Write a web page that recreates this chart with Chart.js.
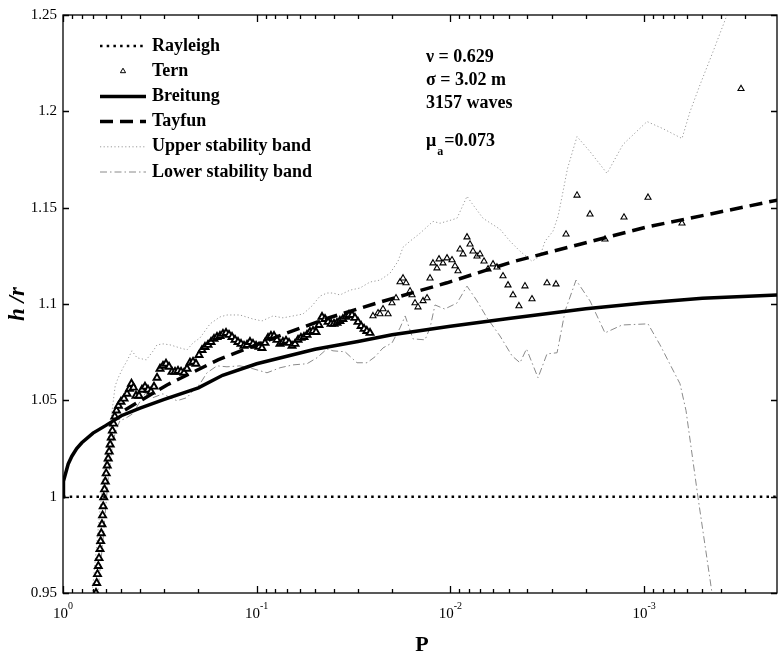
<!DOCTYPE html>
<html>
<head>
<meta charset="utf-8">
<script src="https://cdn.jsdelivr.net/npm/chart.js@4.4.1/dist/chart.umd.min.js"></script>
<style>
  html, body { margin: 0; padding: 0; background: #fff; }
  #contenedor { width: 778px; height: 654px; }
</style>
</head>
<body>
<div id="contenedor"><canvas id="grafica" width="778" height="654"></canvas></div>
<script>
/**
 * h/r contra P (escala log invertida)
 */

const rayleighP = [1, 2.06e-4];
const rayleighH = [1, 1];

const ternP = [
    0.679, 0.6755, 0.6699, 0.6636, 0.6574, 0.6518, 0.6442, 0.6389, 0.6343, 0.6291,
    0.6246, 0.6202, 0.6158, 0.6105, 0.6048, 0.5984, 0.5913, 0.5843, 0.5775, 0.5706,
    0.5632, 0.5559, 0.5487, 0.5403, 0.5294, 0.5170, 0.5019, 0.4843, 0.4673, 0.4537,
    0.4431, 0.4325, 0.4199, 0.4052, 0.3910, 0.3773, 0.3641, 0.3513, 0.3390, 0.3271,
    0.3156, 0.3046, 0.2939, 0.2836, 0.2737, 0.2641, 0.2548, 0.2459, 0.2373, 0.2290,
    0.2210, 0.2132, 0.2058, 0.1985, 0.1916, 0.1849, 0.1784, 0.1721, 0.1661, 0.1603,
    0.1547, 0.1493, 0.1440, 0.1390, 0.1341, 0.1294, 0.1249, 0.1205, 0.1163, 0.1122,
    0.1083, 0.1045, 0.1008, 0.0973, 0.0939, 0.0906, 0.0874, 0.0844, 0.0814, 0.0786,
    0.0758, 0.0732, 0.0706, 0.0681, 0.0657, 0.0634, 0.0612, 0.0591, 0.0570, 0.0550,
    0.0531, 0.0512, 0.0494, 0.0477, 0.0460, 0.0444, 0.0428, 0.0413, 0.0399, 0.0385,
    0.0372, 0.0359, 0.0346, 0.0334, 0.0322, 0.0311, 0.0300, 0.0289, 0.0279, 0.0270,
    0.0260,
    0.0251, 0.02364, 0.02309, 0.02228, 0.02098, 0.02002, 0.01909, 0.01820, 0.01756, 0.01694,
    0.01616, 0.01578, 0.01523, 0.01470, 0.01384, 0.01320, 0.01274, 0.01230, 0.01173, 0.01145,
    0.01092, 0.01041, 0.009811, 0.009467, 0.009135, 0.008920, 0.008607, 0.008209, 0.007921, 0.007644,
    0.007288, 0.007034, 0.006706, 0.006394, 0.006026, 0.005747, 0.005351, 0.005042, 0.004751, 0.004426,
    0.004121, 0.003791, 0.003172, 0.002850, 0.002530, 0.002220, 0.001902, 0.001592, 0.001270, 0.0009546,
    0.0006373, 0.0003160
];
const ternH = [
    0.947, 0.950, 0.9552, 0.9598, 0.9640, 0.9681, 0.9728, 0.9769, 0.9810, 0.9857,
    0.9903, 0.9950, 0.9997, 1.0038, 1.0079, 1.0121, 1.0162, 1.0198, 1.0234, 1.0271,
    1.0307, 1.0343, 1.0379, 1.0416, 1.0447, 1.0472, 1.0493, 1.0509, 1.0534, 1.0560,
    1.0586, 1.0566, 1.0524, 1.0524, 1.0555, 1.0571, 1.0555, 1.0545, 1.0571, 1.0617,
    1.0664, 1.0679, 1.0690, 1.0674, 1.0648, 1.0648, 1.0653, 1.0648, 1.0643, 1.0664,
    1.0695, 1.0700, 1.0690, 1.0735, 1.0761, 1.0777, 1.0788, 1.0803, 1.0819, 1.0829,
    1.0834, 1.0845, 1.0850, 1.0840, 1.0829, 1.0814, 1.0803, 1.0793, 1.0783, 1.0788,
    1.0803, 1.0793, 1.0783, 1.0778, 1.0772, 1.0798, 1.0824, 1.0834, 1.0834, 1.0814,
    1.0793, 1.0803, 1.0809, 1.0798, 1.0783, 1.0793, 1.0814, 1.0824, 1.0829, 1.0840,
    1.0855, 1.0860, 1.0855, 1.0891, 1.0933, 1.0922, 1.0907, 1.0897, 1.0897, 1.0902,
    1.0912, 1.0922, 1.0933, 1.0943, 1.0943, 1.0928, 1.0907, 1.0886, 1.0871, 1.0860,
    1.0850,
    1.0938, 1.0953, 1.0948, 1.0974, 1.0948, 1.1005, 1.1031, 1.1114, 1.1134, 1.1109,
    1.1067, 1.1047, 1.1005, 1.0984, 1.1016, 1.1031, 1.1134, 1.1212, 1.1186, 1.1233,
    1.1212, 1.1238, 1.1228, 1.1197, 1.1171, 1.1284, 1.1259, 1.1347, 1.1310, 1.1274,
    1.1248, 1.1259, 1.1222, 1.1181, 1.1207, 1.1191, 1.1145, 1.1098, 1.1047, 1.0990,
    1.1093, 1.1026, 1.1109, 1.1103, 1.1362, 1.1564, 1.1466, 1.1336, 1.1450, 1.1553,
    1.1419, 1.2117
];
// los primeros 111 puntos forman la nube densa
const ternDensos = 111;

const breitungP = [1, 0.999, 0.99, 0.97, 0.94, 0.9, 0.85, 0.8, 0.7, 0.6, 0.5, 0.4, 0.3, 0.2, 0.15, 0.1, 0.05, 0.03, 0.02, 0.01, 0.005, 0.002, 0.001, 0.0005, 0.000206];
const breitungH = [1.000, 1.004, 1.008, 1.012, 1.017, 1.021, 1.025, 1.028, 1.033, 1.037, 1.042, 1.046, 1.0505, 1.0565, 1.063, 1.069, 1.0765, 1.0805, 1.084, 1.0885, 1.0925, 1.0975, 1.1005, 1.103, 1.1047];

const tayfunP = [0.4786, 0.2905, 0.1584, 0.06974, 0.04184, 0.02309, 0.01041, 0.004751, 0.002140, 0.0009658, 0.0004409, 0.0002035];
const tayfunH = [1.045, 1.058, 1.071, 1.085, 1.093, 1.101, 1.111, 1.122, 1.131, 1.140, 1.147, 1.154];

const bandaSupP = [
    0.7085, 0.6442, 0.6070, 0.5720, 0.5376, 0.5188, 0.4900, 0.4673, 0.4406, 0.4150,
    0.3716, 0.3420, 0.3271, 0.3046, 0.2803, 0.2489, 0.2290, 0.2132, 0.1962, 0.1741,
    0.1547, 0.1424, 0.1220, 0.1045, 0.09389, 0.08239, 0.07316, 0.06495, 0.05768, 0.05180,
    0.04712, 0.04335, 0.04037, 0.03715, 0.03298, 0.02929, 0.02600, 0.02309, 0.02048, 0.01864,
    0.01756, 0.01616, 0.01435, 0.01230, 0.01132, 0.01005, 0.009245, 0.008209, 0.007735, 0.006787,
    0.005545, 0.004924, 0.004371, 0.003791, 0.003447, 0.003246, 0.002953, 0.002781, 0.002651, 0.002486,
    0.002220, 0.001902, 0.001554, 0.001285, 0.0009658, 0.0007987, 0.0006373, 0.0005794, 0.0005143, 0.0004409,
    0.0003733, 0.0003198
];
const bandaSupH = [
    0.9490, 0.9929, 1.0188, 1.0359, 1.0576, 1.0617, 1.0669, 1.0705, 1.0757, 1.0721,
    1.0710, 1.0757, 1.0788, 1.0793, 1.0788, 1.0772, 1.0762, 1.0798, 1.0824, 1.0897,
    1.0933, 1.0943, 1.0943, 1.0922, 1.0912, 1.0938, 1.0928, 1.0938, 1.0948, 1.0990,
    1.1041, 1.1057, 1.1057, 1.1047, 1.1072, 1.1083, 1.1114, 1.1124, 1.1160, 1.1222,
    1.1295, 1.1326, 1.1367, 1.1429, 1.1419, 1.1434, 1.1445, 1.1559, 1.1522, 1.1445,
    1.1388, 1.1326, 1.1274, 1.1222, 1.1248, 1.1326, 1.1378, 1.1455, 1.1559, 1.1703,
    1.1869, 1.1791, 1.1678, 1.1828, 1.1947, 1.1910, 1.1859, 1.1998, 1.2138, 1.2309,
    1.2500, 1.2671
];

const bandaInfP = [
    0.6675, 0.6216, 0.5858, 0.5519, 0.5261, 0.5077, 0.4786, 0.4353, 0.4065, 0.3684,
    0.3431, 0.3046, 0.2803, 0.2578, 0.2290, 0.2132, 0.1962, 0.1806, 0.1603, 0.1424,
    0.1220, 0.1045, 0.08846, 0.07582, 0.06495, 0.05500, 0.04883, 0.04335, 0.04037, 0.03500,
    0.03035, 0.02695, 0.02450, 0.02228, 0.02002, 0.01820, 0.01712, 0.01560, 0.01352, 0.01274,
    0.01201, 0.01070, 0.009245, 0.008209, 0.007288, 0.006471, 0.005545, 0.004808, 0.004371, 0.004046,
    0.003530, 0.003172, 0.002813, 0.002557, 0.002246, 0.001902, 0.001592, 0.001300, 0.0009546, 0.0008276,
    0.0006526, 0.0006076, 0.0005270, 0.0004461, 0.0004355
];
const bandaInfH = [
    0.9464, 0.9774, 1.0084, 1.0291, 1.0359, 1.0395, 1.0405, 1.0431, 1.0483, 1.0550,
    1.0514, 1.0534, 1.0514, 1.0498, 1.0514, 1.0550, 1.0586, 1.0643, 1.0679, 1.0674,
    1.0679, 1.0664, 1.0643, 1.0669, 1.0684, 1.0690, 1.0721, 1.0767, 1.0757, 1.0752,
    1.0695, 1.0695, 1.0726, 1.0772, 1.0798, 1.0876, 1.0938, 1.0819, 1.0814, 1.0876,
    1.0995, 1.0974, 1.1005, 1.1093, 1.1016, 1.0928, 1.0834, 1.0731, 1.0695, 1.0767,
    1.0617, 1.0741, 1.0747, 1.0964, 1.1124, 1.1016, 1.0850, 1.0891, 1.0897, 1.0788,
    1.0586, 1.0447, 0.9997, 0.9500, 0.9412
];

const exponentesX = [0, -1, -2, -3];
const textosInfo = ['ν = 0.629', 'σ = 3.02 m', '3157 waves'];
const textoMu = ['μ', 'a', '=0.073'];

const FUENTE = '"Liberation Serif", "Times New Roman", serif';

function pares(xs, ys) {
    return xs.map((x, i) => ({ x: x, y: ys[i] }));
}

// ejes, marcas hacia dentro, leyenda y textos
const decoracion = {
    id: 'decoracion',
    afterDatasetsDraw(chart) {
        const { ctx, chartArea: a, scales } = chart;
        const sx = scales.x, sy = scales.y;
        ctx.save();
        ctx.strokeStyle = '#000';
        ctx.fillStyle = '#000';
        ctx.lineWidth = 1.3;
        ctx.setLineDash([]);
        ctx.strokeRect(a.left, a.top, a.right - a.left, a.bottom - a.top);

        ctx.beginPath();
        for (let e = -4; e <= 0; e++) {
            for (let m = 1; m <= 9; m++) {
                const v = m * Math.pow(10, e);
                if (v < sx.min * 0.999 || v > sx.max * 1.001) continue;
                const px = Math.round(sx.getPixelForValue(v)) + 0.5;
                const len = m === 1 ? 7 : 4;
                ctx.moveTo(px, a.bottom); ctx.lineTo(px, a.bottom - len);
                ctx.moveTo(px, a.top); ctx.lineTo(px, a.top + len);
            }
        }
        sy.ticks.forEach(t => {
            const py = Math.round(sy.getPixelForValue(t.value)) + 0.5;
            ctx.moveTo(a.left, py); ctx.lineTo(a.left + 6, py);
            ctx.moveTo(a.right, py); ctx.lineTo(a.right - 6, py);
        });
        ctx.stroke();

        // etiquetas 10^n
        ctx.textBaseline = 'alphabetic';
        ctx.textAlign = 'left';
        exponentesX.forEach(e => {
            const px = sx.getPixelForValue(Math.pow(10, e));
            ctx.font = '15px ' + FUENTE;
            const w1 = ctx.measureText('10').width;
            ctx.font = '10px ' + FUENTE;
            const w2 = ctx.measureText(String(e)).width;
            const x0 = px - (w1 + w2) / 2;
            ctx.font = '15px ' + FUENTE;
            ctx.fillText('10', x0, a.bottom + 25);
            ctx.font = '10px ' + FUENTE;
            ctx.fillText(String(e), x0 + w1, a.bottom + 16);
        });

        // titulos
        ctx.font = 'bold 22px ' + FUENTE;
        ctx.textAlign = 'center';
        ctx.textBaseline = 'middle';
        ctx.fillText('P', (a.left + a.right) / 2 + 2, a.bottom + 52);
        ctx.save();
        ctx.translate(18, (a.top + a.bottom) / 2);
        ctx.rotate(-Math.PI / 2);
        ctx.font = 'italic bold 23px ' + FUENTE;
        ctx.fillText('h /r', 0, 0);
        ctx.restore();

        // leyenda
        const lx0 = a.left + 37, lx1 = a.left + 83, lxt = a.left + 89;
        chart.data.datasets.forEach((ds, i) => {
            const yy = a.top + 31 + i * 25.2;
            ctx.save();
            if (ds.showLine) {
                ctx.strokeStyle = ds.borderColor;
                ctx.lineWidth = ds.borderWidth;
                ctx.setLineDash(ds.borderDash || []);
                ctx.beginPath();
                ctx.moveTo(lx0, yy); ctx.lineTo(lx1, yy);
                ctx.stroke();
            } else {
                ctx.fillStyle = '#fff';
                ctx.strokeStyle = '#000';
                ctx.lineWidth = 1;
                Chart.helpers.drawPoint(ctx, { pointStyle: 'triangle', radius: 3, rotation: 0, borderWidth: 1 }, (lx0 + lx1) / 2, yy);
            }
            ctx.restore();
            ctx.font = 'bold 18px ' + FUENTE;
            ctx.textAlign = 'left';
            ctx.textBaseline = 'middle';
            ctx.fillStyle = '#000';
            ctx.fillText(ds.label, lxt, yy);
        });

        // parametros
        const xa = a.left + 363;
        ctx.textAlign = 'left';
        ctx.textBaseline = 'alphabetic';
        ctx.font = 'bold 18px ' + FUENTE;
        textosInfo.forEach((t, i) => ctx.fillText(t, xa, a.top + 47 + i * 23));
        ctx.fillText(textoMu[0], xa, a.top + 131);
        const wMu = ctx.measureText(textoMu[0]).width;
        ctx.font = 'bold 12px ' + FUENTE;
        ctx.fillText(textoMu[1], xa + wMu + 1, a.top + 140);
        const wA = ctx.measureText(textoMu[1]).width;
        ctx.font = 'bold 18px ' + FUENTE;
        ctx.fillText(textoMu[2], xa + wMu + wA + 2, a.top + 131);
        ctx.restore();
    }
};

const grafica = new Chart(document.getElementById('grafica').getContext('2d'), {
    type: 'scatter',
    data: {
        datasets: [
            {
                label: 'Rayleigh',
                data: pares(rayleighP, rayleighH),
                showLine: true,
                borderColor: '#000',
                borderWidth: 2.5,
                borderDash: [2.5, 4.2],
                pointRadius: 0,
                order: 3
            },
            {
                label: 'Tern',
                data: pares(ternP, ternH),
                showLine: false,
                pointStyle: 'triangle',
                pointRadius: c => c.dataIndex < ternDensos ? 4 : 3.5,
                pointBorderWidth: c => c.dataIndex < ternDensos ? 1.9 : 1.1,
                pointBorderColor: '#000',
                pointBackgroundColor: '#fff',
                borderColor: '#000',
                backgroundColor: '#fff',
                order: 4
            },
            {
                label: 'Breitung',
                data: pares(breitungP, breitungH),
                showLine: true,
                borderColor: '#000',
                borderWidth: 3.5,
                pointRadius: 0,
                order: 2
            },
            {
                label: 'Tayfun',
                data: pares(tayfunP, tayfunH),
                showLine: true,
                borderColor: '#000',
                borderWidth: 3.5,
                borderDash: [13, 7],
                pointRadius: 0,
                order: 1
            },
            {
                label: 'Upper stability band',
                data: pares(bandaSupP, bandaSupH),
                showLine: true,
                borderColor: '#9a9a9a',
                borderWidth: 1,
                borderDash: [1.2, 2.4],
                pointRadius: 0,
                order: 5
            },
            {
                label: 'Lower stability band',
                data: pares(bandaInfP, bandaInfH),
                showLine: true,
                borderColor: '#8a8a8a',
                borderWidth: 1,
                borderDash: [7, 3, 1.5, 3],
                pointRadius: 0,
                order: 6
            }
        ]
    },
    options: {
        responsive: false,
        animation: false,
        events: [],
        layout: { autoPadding: false, padding: { top: 13, right: 1, left: 0, bottom: 0 } },
        plugins: {
            legend: { display: false },
            tooltip: { enabled: false }
        },
        scales: {
            x: {
                type: 'logarithmic',
                reverse: true,
                min: 2.06e-4,
                max: 1,
                grid: { display: false, drawTicks: false },
                border: { display: false },
                ticks: { display: false },
                afterFit: s => { s.height = 61; }
            },
            y: {
                type: 'linear',
                min: 0.95,
                max: 1.25,
                grid: { display: false, drawTicks: false },
                border: { display: false },
                ticks: {
                    stepSize: 0.05,
                    padding: 6,
                    color: '#000',
                    font: { family: FUENTE, size: 15 },
                    callback: v => String(Number(v.toFixed(2)))
                },
                afterFit: s => { s.width = 63; }
            }
        }
    },
    plugins: [decoracion]
});
</script>
</body>
</html>
